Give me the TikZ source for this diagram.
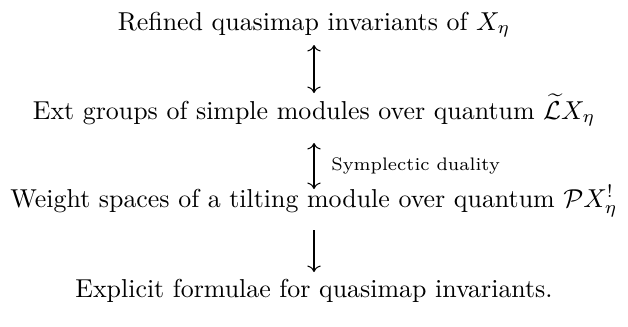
\documentclass[tikz,border=0pt]{standalone}
\usetikzlibrary{cd}
\begin{document}
\begin{tikzpicture}[x=0.3861pt,y=-0.3861pt,
  line/.style={anchor=base,inner sep=0pt},
  arr/.style={line width=0.4pt},
  lab/.style={anchor=west,inner sep=0pt,font=\scriptsize}]
\useasboundingbox (0,0) rectangle (628,326);
\node[line] (a) at (314,30) {Refined quasimap invariants of $X_\eta$};
\node[line] (b) at (314,119) {Ext groups of simple modules over quantum $\widetilde{\mathcal{L}}X_\eta$};
\node[line] (c) at (314,207) {Weight spaces of a tilting module over quantum $\mathcal{P}X^!_\eta$};
\node[line] (d) at (314,297) {Explicit formulae for quasimap invariants.};
\coordinate (a1) at (314,45);
\coordinate (a2) at (314,93);
\coordinate (b1) at (314,143);
\coordinate (b2) at (314,189);
\coordinate (c1) at (314,230);
\coordinate (c2) at (314,272);
\draw[arr,{cm to}-{cm to}] (a1) -- (a2);
\draw[arr,{cm to}-{cm to}] (b1) -- (b2) node[lab,midway,xshift=6.5pt] (l) {Symplectic duality};
\draw[arr,-{cm to}] (c1) -- (c2);
\end{tikzpicture}
\end{document}
